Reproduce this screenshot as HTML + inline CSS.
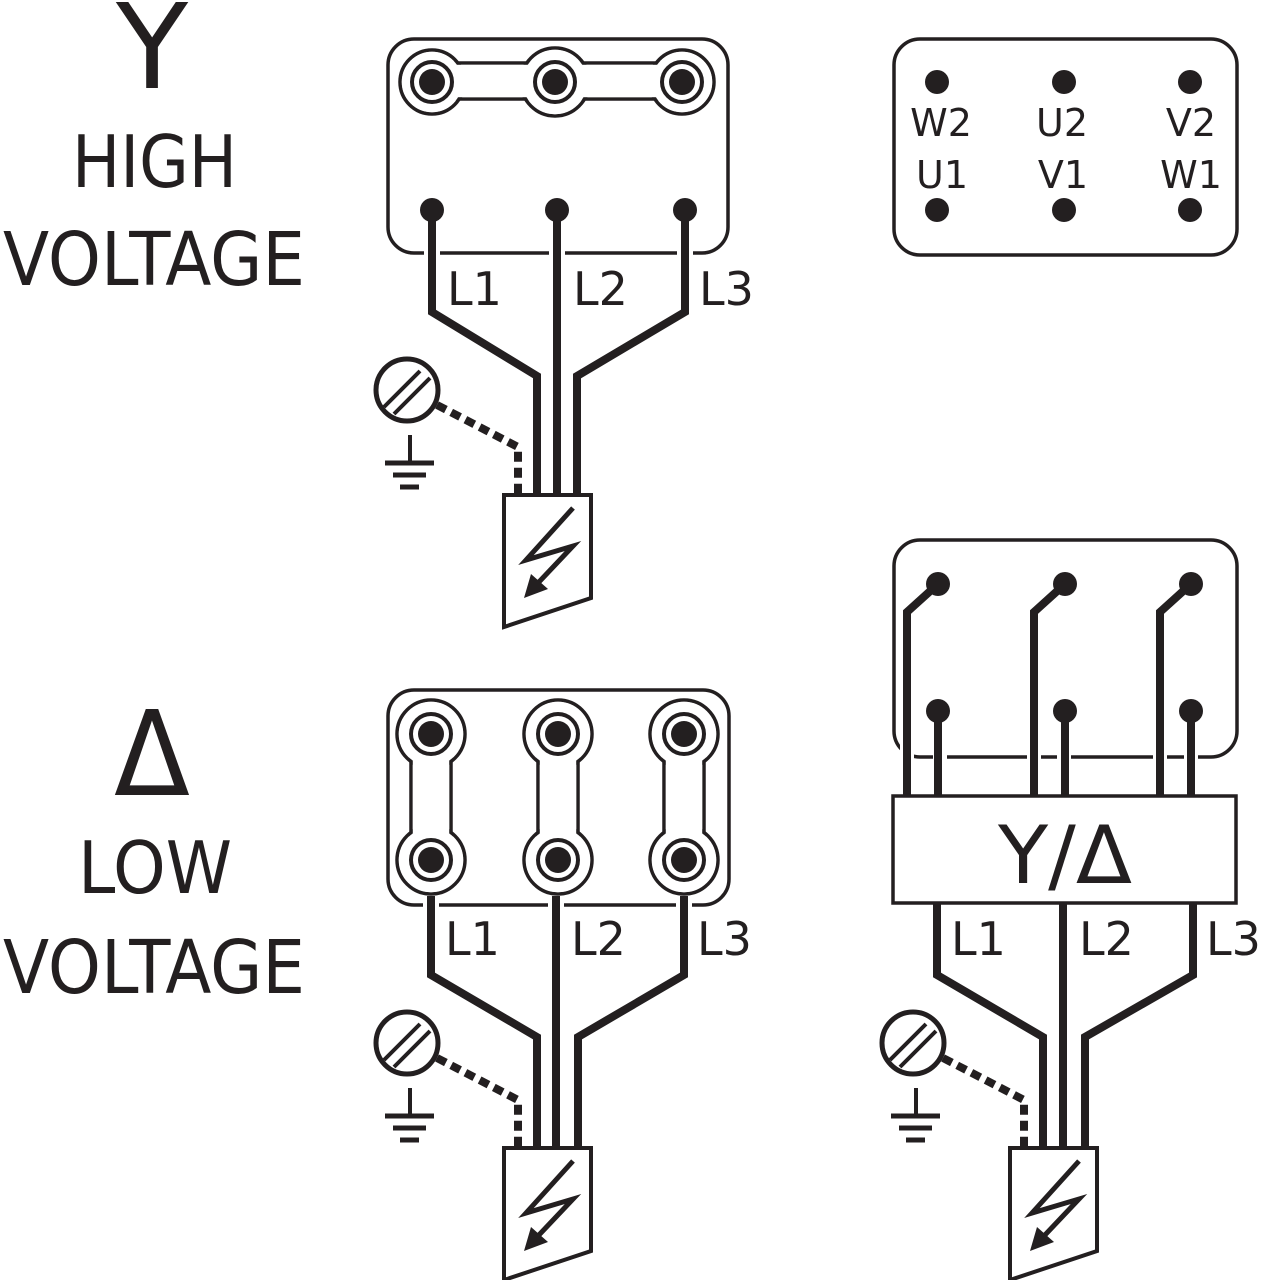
<!DOCTYPE html>
<html><head><meta charset="utf-8"><style>
html,body{margin:0;padding:0;background:#fff;}
svg{display:block;}
text{font-family:"DejaVu Sans","Liberation Sans",sans-serif;fill:#231f20;}
</style></head><body>
<svg width="1261" height="1280" viewBox="0 0 1261 1280" xmlns="http://www.w3.org/2000/svg">
<defs>
<g id="gnd">
  <circle cx="407" cy="390" r="31" fill="#fff" stroke="#231f20" stroke-width="5"/>
  <line x1="384" y1="407" x2="420" y2="371" stroke="#231f20" stroke-width="4"/>
  <line x1="394" y1="414" x2="430" y2="378" stroke="#231f20" stroke-width="4"/>
  <path d="M437,405 L518,447 V495" fill="none" stroke="#231f20" stroke-width="8" stroke-dasharray="10,6"/>
  <line x1="410" y1="435" x2="410" y2="463" stroke="#231f20" stroke-width="4"/>
  <line x1="385" y1="463" x2="434" y2="463" stroke="#231f20" stroke-width="5"/>
  <line x1="393" y1="475" x2="426" y2="475" stroke="#231f20" stroke-width="5"/>
  <line x1="400" y1="487" x2="419" y2="487" stroke="#231f20" stroke-width="5"/>
  <polygon points="504,495 591,495 591,598 504,627" fill="#fff" stroke="#231f20" stroke-width="4"/>
  <polyline points="573,508 526,560 573,546 538,583" fill="none" stroke="#231f20" stroke-width="5"/>
  <polygon points="524,598 531,574 548,589" fill="#231f20"/>
</g>
<g id="ring">
  <circle r="20" fill="#fff" stroke="#231f20" stroke-width="4"/>
  <circle r="13" fill="#231f20"/>
</g>
</defs>

<text x="152" y="88" font-size="118" text-anchor="middle">Y</text>
<text x="72" y="187" font-size="72" textLength="165" lengthAdjust="spacingAndGlyphs">HIGH</text>
<text x="3" y="285" font-size="74" textLength="302" lengthAdjust="spacingAndGlyphs">VOLTAGE</text>
<text x="152" y="795" font-size="118" text-anchor="middle" textLength="76" lengthAdjust="spacingAndGlyphs">Δ</text>
<text x="78" y="893" font-size="72" textLength="154" lengthAdjust="spacingAndGlyphs">LOW</text>
<text x="3" y="993" font-size="74" textLength="302" lengthAdjust="spacingAndGlyphs">VOLTAGE</text>

<g stroke="#231f20" fill="none">
<rect x="388" y="39" width="340" height="214" rx="26" stroke-width="3.5" fill="#fff"/>
<g stroke-width="3.5">
  <circle cx="432" cy="82" r="32"/><circle cx="682" cy="82" r="32"/><circle cx="555" cy="82" r="34"/>
  <rect x="432" y="63" width="250" height="36"/>
</g>
<g fill="#fff" stroke="none">
  <circle cx="432" cy="82" r="30.2"/><circle cx="682" cy="82" r="30.2"/><circle cx="555" cy="82" r="32.2"/>
  <rect x="432" y="64.8" width="250" height="32.4"/>
</g>
</g>
<use href="#ring" x="432" y="82"/><use href="#ring" x="555" y="82"/><use href="#ring" x="682" y="82"/>
<circle cx="432" cy="210" r="12" fill="#231f20"/>
<circle cx="557" cy="210" r="12" fill="#231f20"/>
<circle cx="685" cy="210" r="12" fill="#231f20"/>
<g fill="none" stroke-linejoin="miter">
<g stroke="#fff" stroke-width="16">
  <path d="M432,240 V312 L537,376 V490"/><path d="M557,240 V490"/><path d="M685,240 V312 L577,376 V490"/>
</g>
<g stroke="#231f20" stroke-width="8">
  <path d="M432,210 V312 L537,376 V495"/><path d="M557,210 V495"/><path d="M685,210 V312 L577,376 V495"/>
</g>
</g>
<text x="447" y="305" font-size="46">L1</text>
<text x="573" y="305" font-size="46">L2</text>
<text x="699" y="305" font-size="46">L3</text>
<use href="#gnd"/>

<rect x="894" y="39" width="343" height="216" rx="26" fill="#fff" stroke="#231f20" stroke-width="3.5"/>
<g fill="#231f20">
<circle cx="937" cy="82" r="12"/><circle cx="1064" cy="82" r="12"/><circle cx="1190" cy="82" r="12"/>
<circle cx="937" cy="210" r="12"/><circle cx="1064" cy="210" r="12"/><circle cx="1190" cy="210" r="12"/>
</g>
<g font-size="38" text-anchor="middle">
<text x="941" y="136">W2</text><text x="1062" y="136">U2</text><text x="1191" y="136">V2</text>
<text x="942" y="188">U1</text><text x="1063" y="188">V1</text><text x="1191" y="188">W1</text>
</g>

<rect x="388" y="690" width="341" height="215" rx="26" fill="#fff" stroke="#231f20" stroke-width="3.5"/>
<g stroke="#231f20" stroke-width="3.5" fill="none">
  <circle cx="431" cy="734" r="34"/><circle cx="431" cy="860" r="34"/><rect x="411" y="734" width="40" height="126"/>
  <circle cx="558" cy="734" r="34"/><circle cx="558" cy="860" r="34"/><rect x="538" y="734" width="40" height="126"/>
  <circle cx="684" cy="734" r="34"/><circle cx="684" cy="860" r="34"/><rect x="664" y="734" width="40" height="126"/>
</g>
<g fill="#fff">
  <circle cx="431" cy="734" r="32.2"/><circle cx="431" cy="860" r="32.2"/><rect x="412.8" y="734" width="36.4" height="126"/>
  <circle cx="558" cy="734" r="32.2"/><circle cx="558" cy="860" r="32.2"/><rect x="539.8" y="734" width="36.4" height="126"/>
  <circle cx="684" cy="734" r="32.2"/><circle cx="684" cy="860" r="32.2"/><rect x="665.8" y="734" width="36.4" height="126"/>
</g>
<use href="#ring" x="431" y="734"/><use href="#ring" x="431" y="860"/>
<use href="#ring" x="558" y="734"/><use href="#ring" x="558" y="860"/>
<use href="#ring" x="684" y="734"/><use href="#ring" x="684" y="860"/>
<g fill="none">
<g stroke="#fff" stroke-width="16">
  <path d="M431,896 V975 L537,1037 V1143"/><path d="M556,896 V1143"/><path d="M684,896 V975 L578,1037 V1143"/>
</g>
<g stroke="#231f20" stroke-width="8">
  <path d="M431,896 V975 L537,1037 V1148"/><path d="M556,896 V1148"/><path d="M684,896 V975 L578,1037 V1148"/>
</g>
</g>
<text x="445" y="955" font-size="46">L1</text>
<text x="571" y="955" font-size="46">L2</text>
<text x="697" y="955" font-size="46">L3</text>
<use href="#gnd" transform="translate(0,653)"/>

<rect x="894" y="540" width="343" height="217" rx="26" fill="#fff" stroke="#231f20" stroke-width="3.5"/>
<g fill="#231f20">
<circle cx="938" cy="584" r="12"/><circle cx="1065" cy="584" r="12"/><circle cx="1191" cy="584" r="12"/>
<circle cx="938" cy="711" r="12"/><circle cx="1065" cy="711" r="12"/><circle cx="1191" cy="711" r="12"/>
</g>
<g fill="none">
<g stroke="#fff" stroke-width="14">
  <path d="M907,740 V795"/><path d="M940,740 V795"/>
  <path d="M1034,740 V795"/><path d="M1064,740 V795"/>
  <path d="M1160,740 V795"/><path d="M1191,740 V795"/>
</g>
<g stroke="#231f20" stroke-width="8">
  <path d="M938,584 L907,612 V796"/><path d="M938,711 V796"/>
  <path d="M1065,584 L1034,612 V796"/><path d="M1065,711 V796"/>
  <path d="M1191,584 L1160,612 V796"/><path d="M1191,711 V796"/>
</g>
</g>
<rect x="893" y="796" width="343" height="107" fill="#fff" stroke="#231f20" stroke-width="3.5"/>
<text x="1065" y="883" font-size="80" text-anchor="middle" textLength="134" lengthAdjust="spacingAndGlyphs">Y/Δ</text>
<g fill="none" stroke="#231f20" stroke-width="8">
  <path d="M937,903 V975 L1043,1037 V1148"/><path d="M1063,903 V1148"/><path d="M1193,903 V975 L1085,1037 V1148"/>
</g>
<text x="951" y="955" font-size="46">L1</text>
<text x="1079" y="955" font-size="46">L2</text>
<text x="1206" y="955" font-size="46">L3</text>
<use href="#gnd" transform="translate(506,653)"/>
</svg>
</body></html>
